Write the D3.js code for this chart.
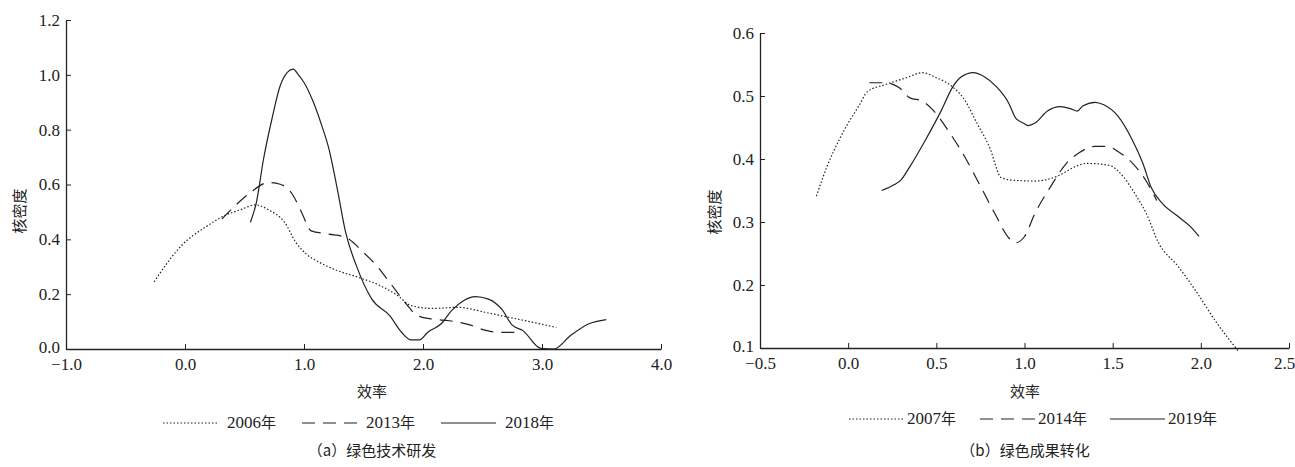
<!DOCTYPE html>
<html>
<head>
<meta charset="utf-8">
<script src="https://cdn.jsdelivr.net/npm/d3@7"></script>
<style>
  body { margin: 0; background: #fff; }
  svg text { fill: #222; }
</style>
</head>
<body>
<svg width="1295" height="467"></svg>
<script>
// panel a: green tech R&D
const xA = [-0.26,-0.03,0.19,0.33,0.48,0.59,0.70,0.84,0.93,1.02,1.13,1.28,1.46,1.64,1.79,1.90,2.08,2.30,2.52,2.73,3.12];
const yA2006 = [0.245,0.377,0.450,0.486,0.510,0.526,0.508,0.460,0.390,0.346,0.316,0.286,0.261,0.231,0.194,0.158,0.148,0.152,0.134,0.115,0.079];

const xA13 = [0.31,0.42,0.55,0.70,0.80,0.91,0.98,1.06,1.21,1.35,1.50,1.61,1.72,1.86,1.95,2.08,2.22,2.37,2.52,2.63,2.77];
const yA2013 = [0.474,0.522,0.571,0.607,0.601,0.559,0.498,0.431,0.419,0.407,0.352,0.304,0.243,0.164,0.122,0.109,0.103,0.091,0.069,0.061,0.061];

const xA18 = [0.55,0.60,0.66,0.73,0.80,0.86,0.91,0.95,1.00,1.08,1.15,1.21,1.28,1.35,1.44,1.57,1.72,1.82,1.90,1.97,2.04,2.15,2.24,2.34,2.44,2.55,2.66,2.75,2.84,2.99,3.10,3.24,3.39,3.54];
const yA2018 = [0.462,0.535,0.693,0.838,0.960,1.009,1.021,1.002,0.972,0.899,0.814,0.729,0.583,0.425,0.304,0.182,0.122,0.061,0.033,0.033,0.061,0.091,0.140,0.176,0.191,0.182,0.146,0.087,0.067,0.002,0.0,0.049,0.091,0.107];

// panel b: green achievement transformation
const xB07 = [-0.18,-0.12,-0.05,-0.01,0.06,0.11,0.21,0.33,0.42,0.50,0.59,0.66,0.73,0.80,0.87,0.95,1.06,1.18,1.29,1.35,1.48,1.56,1.63,1.69,1.76,1.87,1.98,2.09,2.21];
const yB2007 = [0.341,0.388,0.431,0.452,0.484,0.507,0.518,0.529,0.537,0.529,0.515,0.494,0.457,0.420,0.370,0.366,0.365,0.372,0.388,0.393,0.390,0.372,0.343,0.314,0.267,0.230,0.187,0.140,0.096];

const xB14 = [0.12,0.21,0.29,0.35,0.42,0.48,0.57,0.66,0.75,0.84,0.91,0.95,1.00,1.06,1.15,1.24,1.31,1.40,1.47,1.53,1.62,1.69,1.75];
const yB2014 = [0.521,0.521,0.513,0.497,0.492,0.478,0.444,0.404,0.357,0.309,0.275,0.267,0.277,0.314,0.357,0.394,0.410,0.420,0.420,0.412,0.391,0.365,0.334];

const xB19 = [0.19,0.26,0.30,0.35,0.44,0.53,0.59,0.64,0.71,0.77,0.84,0.91,0.95,1.00,1.02,1.06,1.13,1.20,1.26,1.30,1.33,1.40,1.45,1.53,1.61,1.67,1.72,1.78,1.87,1.94,1.99];
const yB2019 = [0.350,0.359,0.367,0.388,0.431,0.478,0.513,0.530,0.537,0.531,0.515,0.489,0.465,0.456,0.453,0.457,0.476,0.483,0.480,0.476,0.484,0.490,0.486,0.468,0.431,0.394,0.354,0.330,0.309,0.293,0.277];

const ticksA_x = [-1, 0, 1, 2, 3, 4];
const ticksA_y = [0, 0.2, 0.4, 0.6, 0.8, 1.0, 1.2];
const ticksB_x = [-0.5, 0, 0.5, 1.0, 1.5, 2.0, 2.5];
const ticksB_y = [0.1, 0.2, 0.3, 0.4, 0.5, 0.6];

const seriesA = [
  {name: '2006', xs: xA, ys: yA2006, dash: '1.5,2'},
  {name: '2013', xs: xA13, ys: yA2013, dash: '13,8'},
  {name: '2018', xs: xA18, ys: yA2018, dash: null}
];
const seriesB = [
  {name: '2007', xs: xB07, ys: yB2007, dash: '1.5,2'},
  {name: '2014', xs: xB14, ys: yB2014, dash: '13,8'},
  {name: '2019', xs: xB19, ys: yB2019, dash: null}
];

const SERIF = '"Liberation Serif", "Times New Roman", "DejaVu Serif", serif';
const CJK = '"Noto Sans CJK SC", "Noto Sans CJK JP", sans-serif';

const svg = d3.select('svg');
const fmt = d => d3.format('.1f')(d).replace('-', '\u2013');

function drawPanel(opt) {
  const x = d3.scaleLinear().domain(opt.xDom).range([opt.left, opt.right]);
  const y = d3.scaleLinear().domain(opt.yDom).range([opt.bottom, opt.top]);

  //axes, ticks point inward
  const gx = svg.append('g').attr('transform', `translate(0,${opt.bottom})`)
    .call(d3.axisBottom(x).tickValues(opt.xt).tickFormat(fmt).tickSizeInner(-5).tickSizeOuter(0).tickPadding(9));
  const gy = svg.append('g').attr('transform', `translate(${opt.left},0)`)
    .call(d3.axisLeft(y).tickValues(opt.yt).tickFormat(fmt).tickSizeInner(-5).tickSizeOuter(0).tickPadding(6));
  [gx, gy].forEach(g => {
    g.select('.domain').attr('stroke', '#222').attr('stroke-width', 1.3);
    g.selectAll('.tick line').attr('stroke', '#222');
    g.selectAll('.tick text').style('font-family', SERIF).style('font-size', '17px');
  });
  // bottom y label sits a touch higher so it clears the first x label
  gy.selectAll('.tick text').filter((d, i) => i === 0).attr('dy', '0.2em');
  if (opt.lastShift) {
    gx.selectAll('.tick text').filter((d, i, n) => i === n.length - 1).attr('dx', opt.lastShift);
  }

  const line = d3.line().x(d => x(d[0])).y(d => y(d[1])).curve(d3.curveMonotoneX);
  opt.series.forEach(s => {
    svg.append('path')
      .datum(s.xs.map((v, i) => [v, s.ys[i]]))
      .attr('d', line)
      .attr('fill', 'none')
      .attr('stroke', '#222')
      .attr('stroke-width', 1.2)
      .attr('stroke-dasharray', s.dash);
  });

  // axis titles
  svg.append('text')
    .attr('transform', `translate(${opt.ytX},${opt.ytY}) rotate(-90)`)
    .attr('text-anchor', 'middle').attr('dominant-baseline', 'middle')
    .style('font-family', CJK).style('font-size', '15px')
    .text('核密度');
  svg.append('text')
    .attr('x', opt.xtX).attr('y', 397).attr('text-anchor', 'middle')
    .style('font-family', CJK).style('font-size', '15px')
    .text('效率');

  // legend
  opt.series.forEach((s, i) => {
    const lx = opt.legX[i];
    svg.append('line')
      .attr('x1', lx).attr('x2', lx + 55).attr('y1', opt.legY - 5).attr('y2', opt.legY - 5)
      .attr('stroke', '#222').attr('stroke-width', 1.2).attr('stroke-dasharray', s.dash);
    const t = svg.append('text').attr('x', lx + opt.legGap).attr('y', opt.legY);
    t.append('tspan').style('font-family', SERIF).style('font-size', '17px').text(s.name);
    t.append('tspan').style('font-family', CJK).style('font-size', '15px').text('年');
  });

  svg.append('text')
    .attr('x', opt.xtX).attr('y', 456).attr('text-anchor', 'middle')
    .style('font-family', CJK).style('font-size', '15px')
    .text(opt.caption);
}

drawPanel({
  xDom: [-1, 4], yDom: [0, 1.2], left: 66, right: 661, top: 20, bottom: 349,
  xt: ticksA_x, yt: ticksA_y, series: seriesA,
  ytX: 21, ytY: 211, xtX: 372, legX: [163, 302, 441], legY: 428, legGap: 64,
  caption: '（a）绿色技术研发'
});

drawPanel({
  xDom: [-0.5, 2.5], yDom: [0.1, 0.6], left: 760, right: 1289, top: 33, bottom: 348,
  xt: ticksB_x, yt: ticksB_y, series: seriesB, lastShift: -5,
  ytX: 716, ytY: 212, xtX: 1025, legX: [849, 980, 1110], legY: 424, legGap: 58,
  caption: '（b）绿色成果转化'
});
</script>
</body>
</html>
